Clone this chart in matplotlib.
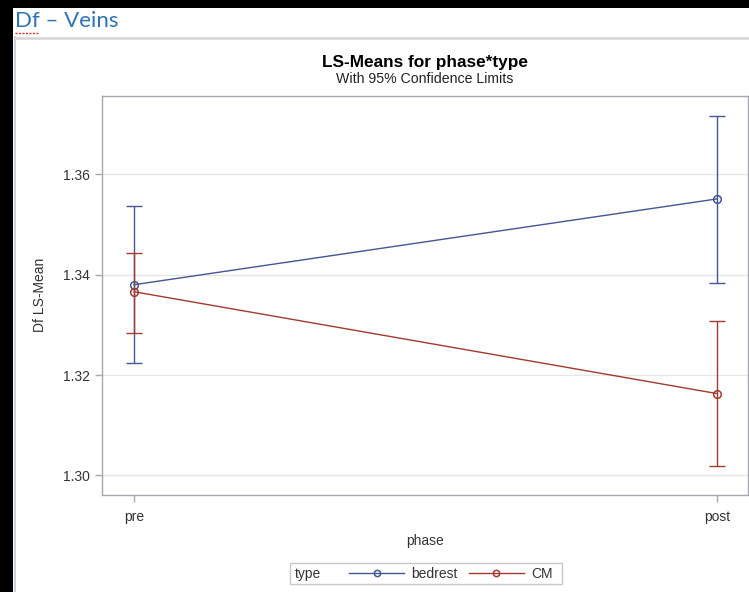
import matplotlib
matplotlib.use("Agg")
import matplotlib.pyplot as plt
from matplotlib.lines import Line2D
from matplotlib.patches import Rectangle

plt.rcParams["font.family"] = ["Liberation Sans", "DejaVu Sans"]

# Data
phases = ["pre", "post"]
types = ["bedrest", "CM"]
bedrest_mean = [1.3380, 1.3551]
bedrest_lower = [1.3224, 1.3384]
bedrest_upper = [1.3537, 1.3716]
cm_mean = [1.3366, 1.3163]
cm_lower = [1.3284, 1.3019]
cm_upper = [1.3444, 1.3308]
yticks = [1.30, 1.32, 1.34, 1.36]

colors = {"bedrest": "#445694", "CM": "#A23A2E"}

W, H = 749, 592
fig = plt.figure(figsize=(W / 100, H / 100), dpi=100)

# page decoration around the chart (screenshot of a document)
fig.patches.append(Rectangle((0, 1 - 8 / H), 1, 8 / H, transform=fig.transFigure,
                             facecolor="black", edgecolor="none", zorder=0))
fig.patches.append(Rectangle((0, 0), 13 / W, 1, transform=fig.transFigure,
                             facecolor="black", edgecolor="none", zorder=0))
fig.lines.append(Line2D([14.5 / W, 14.5 / W], [0, 1 - 37 / H], transform=fig.transFigure,
                        color="#C9D3E0", lw=1.5))
fig.lines.append(Line2D([15 / W, 1], [1 - 37.5 / H, 1 - 37.5 / H], transform=fig.transFigure,
                        color="#D4D4D4", lw=1.8))
fig.text(15 / W, 1 - 21 / H, "Df \u2013 Veins", fontsize=16, color="#2E74B5",
         family=["Lato", "DejaVu Sans"], va="center", ha="left")
fig.lines.append(Line2D([15 / W, 38 / W], [1 - 33 / H, 1 - 33 / H], transform=fig.transFigure,
                        color="#E03030", lw=1, ls=(0, (1.5, 1))))

ax = fig.add_axes([102 / W, 1 - 494.5 / H, 645.5 / W, 398.5 / H])
x = list(range(len(phases)))

for name, mean, lo, hi in [("bedrest", bedrest_mean, bedrest_lower, bedrest_upper),
                           ("CM", cm_mean, cm_lower, cm_upper)]:
    c = colors[name]
    yerr = [[m - l for m, l in zip(mean, lo)], [h - m for m, h in zip(mean, hi)]]
    ax.errorbar(x, mean, yerr=yerr, fmt="none", ecolor=c, elinewidth=1, capsize=6, capthick=1, zorder=3)
    ax.plot(x, mean, color=c, lw=1, marker="o", markersize=5.5, markerfacecolor="none",
            markeredgecolor=c, markeredgewidth=1.1, label=name, zorder=4)

ax.set_xlim(-0.055, 1.052)
ax.set_ylim(1.2962, 1.3756)
ax.set_xticks(x)
ax.set_xticklabels(phases)
ax.set_yticks(yticks)
ax.set_yticklabels([f"{t:.2f}" for t in yticks])
ax.grid(axis="y", color="#E6E6E6", lw=1)
ax.set_axisbelow(True)

for s in ax.spines.values():
    s.set_color("#A4A8AF")
    s.set_linewidth(1)
ax.tick_params(colors="#A4A8AF", labelcolor="#333333", labelsize=10, length=5, width=1)
ax.tick_params(axis="x", pad=6)

ax.set_xlabel("phase", fontsize=10, color="#333333", labelpad=7)
ax.set_ylabel("Df LS-Mean", fontsize=10, color="#333333", labelpad=12)

fig.text(425 / W, 1 - 62 / H, "LS-Means for phase*type", fontsize=12.4, fontweight="bold",
         ha="center", va="center")
fig.text(425 / W, 1 - 79 / H, "With 95% Confidence Limits", fontsize=10.2,
         ha="center", va="center", color="#222222")

# legend: framed box with "type" on the left and the two entries to its right
fig.patches.append(Rectangle((290 / W, 1 - 584 / H), 272 / W, 21 / H, transform=fig.transFigure,
                             facecolor="white", edgecolor="#C8C8C8", lw=1, zorder=1))
fig.text(295 / W, 1 - 574 / H, "type", fontsize=10, color="#333333", ha="left", va="center")
handles, labels = ax.get_legend_handles_labels()
leg = fig.legend(handles, labels, ncol=2, loc="center left",
                 bbox_to_anchor=(339 / W, 1 - 574 / H), fontsize=10,
                 handlelength=4, handletextpad=0.5, columnspacing=0.8, borderpad=0.2,
                 frameon=False)
for t in leg.get_texts():
    t.set_color("#333333")
for h in leg.legend_handles:
    h.set_markersize(4.5)

fig.savefig("out.png", dpi=100)
